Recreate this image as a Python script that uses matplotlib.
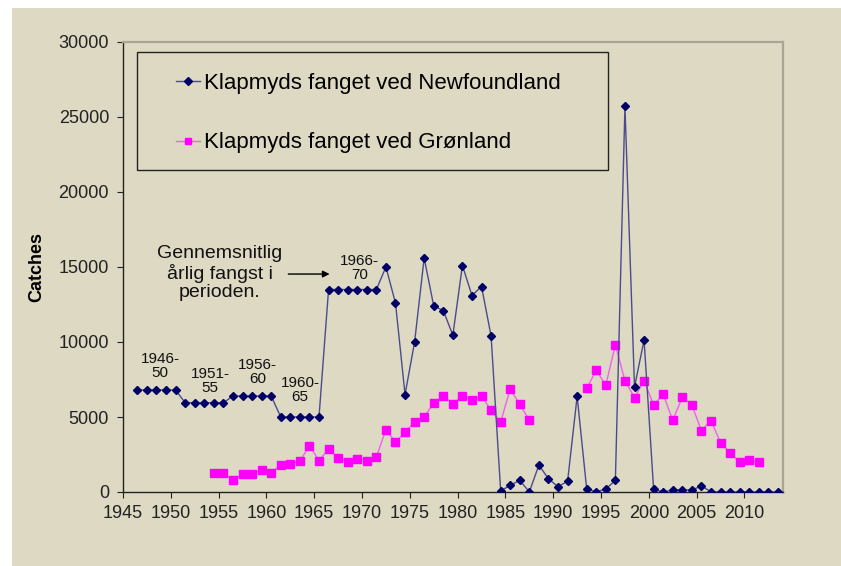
import matplotlib.pyplot as plt
import numpy as np
from matplotlib.patches import Rectangle

plt.rcParams['font.family'] = ['Liberation Sans', 'DejaVu Sans']

# Newfoundland catches, 1946-2013 (1946-70 shown as five-year averages)
nf_years = np.arange(1946, 2014)
nf_catch = [6800] * 5 + [5950] * 5 + [6400] * 5 + [5000] * 5 + [13500] * 6 + [
    15000, 12600, 6500, 10000, 15600, 12400, 12100, 10450, 15100, 13100,
    13700, 10400, 80, 440, 780, 0, 1800, 870, 360, 710,
    6380, 180, 30, 180, 800, 25700, 7000, 10130, 180, 0,
    130, 130, 130, 400, 20, 0, 0, 0, 0, 0,
    0, 0]

# Greenland catches, 1954-2011 (no data 1988-92)
gr_years = np.arange(1954, 2012)
gr_catch = [1250, 1250, 800, 1180, 1180, 1470, 1270, 1820, 1870, 2050,
            3090, 2100, 2850, 2290, 2010, 2200, 2100, 2330, 4160, 3310,
            3980, 4670, 5000, 5930, 6400, 5890, 6400, 6130, 6420, 5440,
            4660, 6870, 5840, 4780, np.nan, np.nan, np.nan, np.nan, np.nan, 6910,
            8110, 7130, 9820, 7420, 6290, 7420, 5800, 6510, 4780, 6330,
            5800, 4090, 4760, 3290, 2600, 1980, 2110, 2000]

period_labels = ['1946-\n50', '1951-\n55', '1956-\n60', '1960-\n65', '1966-\n70']

bg = '#DDD9C3'
fig = plt.figure(figsize=(8.41, 5.66), dpi=100, facecolor='white')
fig.patches.append(Rectangle((12 / 841, 0), 1, 1 - 8 / 566, transform=fig.transFigure,
                             facecolor=bg, edgecolor='none', zorder=-10))
ax = fig.add_axes([123 / 841, 1 - 492 / 566, (782.7 - 123) / 841, (492 - 42) / 566])
ax.set_facecolor(bg)

# values are plotted at mid-year
ax.plot(nf_years + 0.5, nf_catch, color='#4B4B8C', lw=1.0, marker='D', ms=4,
        mfc='#000066', mec='#000066', label='Klapmyds fanget ved Newfoundland', zorder=3)
ax.plot(gr_years + 0.5, gr_catch, color='#F060F0', lw=1.0, marker='s', ms=5.5,
        mfc='#FF00FF', mec='#FF00FF', label='Klapmyds fanget ved Grønland', zorder=2)

ax.set_xlim(1945, 2014)
ax.set_ylim(0, 30000)
ax.set_xticks(np.arange(1945, 2011, 5))
ax.set_yticks(np.arange(0, 30001, 5000))
ax.tick_params(axis='both', labelsize=13, colors='#222222', direction='out', length=4)
ax.tick_params(axis='x', pad=5)
ax.tick_params(axis='y', pad=6)
ax.set_ylabel('Catches', fontsize=13, fontweight='bold')
ax.yaxis.set_label_coords(-0.118, 0.5)

for side in ['top', 'right']:
    ax.spines[side].set_color('#A8A496')
    ax.spines[side].set_linewidth(1.6)
for side in ['left', 'bottom']:
    ax.spines[side].set_color('#222222')
    ax.spines[side].set_linewidth(1.0)

# legend frame drawn separately
ax.add_patch(Rectangle((0.0212, 0.7156), 0.7140, 0.2622, transform=ax.transAxes,
                       facecolor=bg, edgecolor='#222222', lw=1.0, zorder=4))
leg = ax.legend(loc='upper left', bbox_to_anchor=(0.080, 0.932), fontsize=16,
                frameon=False, borderpad=0, labelspacing=1.75, handlelength=1.1,
                handletextpad=0.15, borderaxespad=0)
leg.set_zorder(5)
for h in leg.legend_handles:
    h.set_markersize(4)

label_pos = [(1948.9, 8400), (1954.1, 7400), (1959.1, 8000), (1963.5, 6800), (1969.75, 14950)]
for txt, (x, y) in zip(period_labels, label_pos):
    ax.text(x, y, txt, ha='center', va='center', fontsize=11, color='#111111',
            linespacing=1.0)

ax.text(1955.1, 14600, 'Gennemsnitlig\nårlig fangst i\nperioden.', ha='center',
        va='center', fontsize=14, color='#111111', linespacing=1.12)
ax.annotate('', xy=(1966.9, 14530), xytext=(1962.0, 14530),
            arrowprops=dict(arrowstyle='-|>', color='black', lw=1.0, mutation_scale=10))

plt.savefig('out.png', dpi=100, facecolor=fig.get_facecolor())
